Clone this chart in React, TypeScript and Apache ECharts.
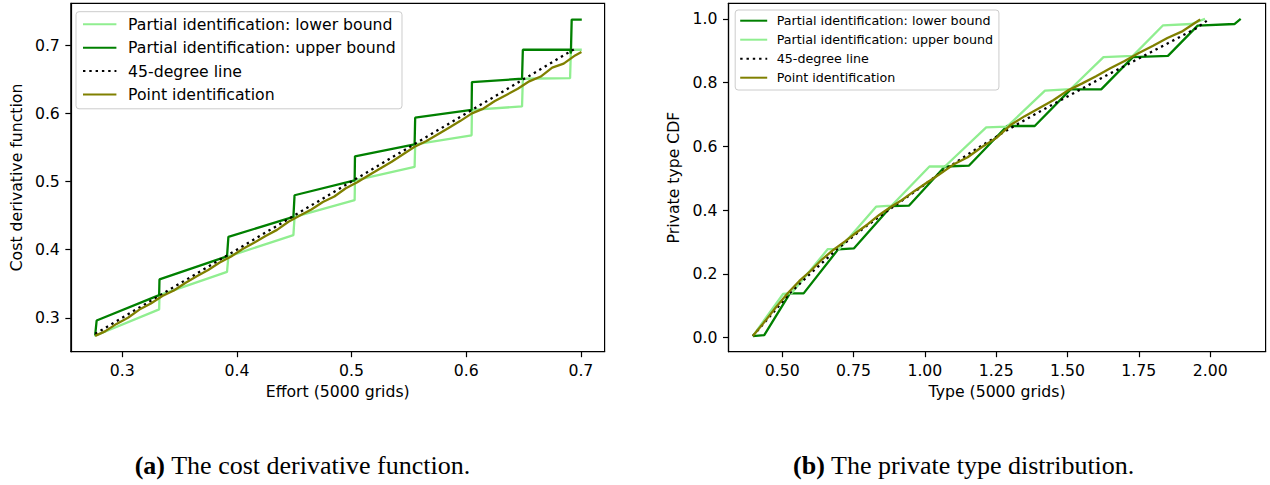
import React, { useEffect, useRef } from "react";
import * as echarts from "echarts";

// ---------- data: (a) cost derivative function ----------
const effortTicks = [0.3, 0.4, 0.5, 0.6, 0.7];
const costTicks = [0.3, 0.4, 0.5, 0.6, 0.7];

const costLower: [number, number][] = [
  [0.2758, 0.2732], [0.3322, 0.3123], [0.3325, 0.3333], [0.3914, 0.3674], [0.3926, 0.39],
  [0.4493, 0.4212], [0.4503, 0.448], [0.5027, 0.4725], [0.503, 0.5018], [0.555, 0.5213],
  [0.5555, 0.5545], [0.6047, 0.5677], [0.605, 0.605], [0.6487, 0.6102], [0.6494, 0.6508],
  [0.6906, 0.6517], [0.6913, 0.6933], [0.7008, 0.6933],
];
const costUpper: [number, number][] = [
  [0.2764, 0.274], [0.2777, 0.296], [0.3322, 0.3333], [0.3325, 0.3563], [0.3914, 0.39],
  [0.3926, 0.4187], [0.4493, 0.448], [0.4503, 0.4798], [0.5027, 0.5018], [0.503, 0.537],
  [0.555, 0.5545], [0.5555, 0.5936], [0.6047, 0.605], [0.605, 0.6458], [0.6487, 0.6508],
  [0.6494, 0.6933], [0.6906, 0.6933], [0.6913, 0.688], [0.692, 0.7376], [0.7008, 0.7376],
];
const cost45: [number, number][] = [[0.2764, 0.2764], [0.6965, 0.6965]];
const costPointX = [
  0.2764, 0.285, 0.295, 0.305, 0.315, 0.325, 0.335, 0.345, 0.355, 0.365, 0.375, 0.385, 0.395,
  0.405, 0.415, 0.425, 0.435, 0.445, 0.455, 0.465, 0.475, 0.485, 0.495, 0.505, 0.515, 0.525,
  0.535, 0.545, 0.555, 0.565, 0.575, 0.585, 0.595, 0.605, 0.615, 0.625, 0.635, 0.645, 0.655,
  0.665, 0.675, 0.685, 0.695, 0.7005,
];
const costPointY = [
  0.2734, 0.28, 0.291, 0.3, 0.312, 0.321, 0.332, 0.34, 0.351, 0.361, 0.37, 0.381, 0.39,
  0.401, 0.41, 0.42, 0.429, 0.441, 0.45, 0.459, 0.47, 0.478, 0.49, 0.499, 0.509, 0.519,
  0.529, 0.54, 0.551, 0.559, 0.569, 0.579, 0.589, 0.6, 0.607, 0.618, 0.627, 0.636, 0.647,
  0.654, 0.667, 0.673, 0.685, 0.69,
];

// ---------- data: (b) private type distribution ----------
const typeTicks = [0.5, 0.75, 1.0, 1.25, 1.5, 1.75, 2.0];
const cdfTicks = [0.0, 0.2, 0.4, 0.6, 0.8, 1.0];

const cdfLower: [number, number][] = [
  [0.397, 0.005], [0.437, 0.008], [0.527, 0.139], [0.575, 0.139], [0.696, 0.277], [0.751, 0.28],
  [0.883, 0.413], [0.944, 0.414], [1.07, 0.537], [1.155, 0.54], [1.288, 0.664], [1.385, 0.664],
  [1.511, 0.779], [1.618, 0.779], [1.729, 0.88], [1.852, 0.884], [1.956, 0.979], [2.085, 0.984],
  [2.107, 1.0],
];
const cdfUpper: [number, number][] = [
  [0.397, 0.005], [0.503, 0.137], [0.533, 0.14], [0.66, 0.278], [0.7, 0.278], [0.829, 0.411],
  [0.883, 0.414], [1.016, 0.537], [1.07, 0.537], [1.215, 0.66], [1.288, 0.662], [1.421, 0.775],
  [1.511, 0.78], [1.626, 0.88], [1.729, 0.884], [1.835, 0.98], [1.934, 0.984], [1.982, 1.0],
];
const cdf45: [number, number][] = [
  [0.397, 0.005], [0.45, 0.06], [0.526, 0.139], [0.6, 0.202], [0.69, 0.276], [0.79, 0.347],
  [0.894, 0.414], [0.98, 0.468], [1.07, 0.527], [1.18, 0.592], [1.288, 0.651], [1.4, 0.708],
  [1.511, 0.762], [1.62, 0.815], [1.729, 0.866], [1.84, 0.918], [1.95, 0.97], [1.988, 0.994],
];
const cdfPointX = [
  0.397, 0.44, 0.48, 0.52, 0.56, 0.6, 0.64, 0.68, 0.72, 0.76, 0.8, 0.84, 0.88, 0.92, 0.96, 1.0,
  1.05, 1.1, 1.15, 1.2, 1.25, 1.3, 1.35, 1.4, 1.45, 1.5, 1.55, 1.6, 1.65, 1.7, 1.75, 1.8, 1.85,
  1.9, 1.965,
];
const cdfPointY = [
  0.005, 0.052, 0.098, 0.14, 0.178, 0.21, 0.246, 0.276, 0.302, 0.33, 0.356, 0.385, 0.41, 0.432,
  0.458, 0.482, 0.512, 0.543, 0.566, 0.598, 0.626, 0.667, 0.695, 0.72, 0.745, 0.775, 0.797,
  0.82, 0.845, 0.868, 0.893, 0.916, 0.94, 0.96, 0.998,
];

const N_LOWER = "Partial identification: lower bound";
const N_UPPER = "Partial identification: upper bound";
const N_45 = "45-degree line";
const N_POINT = "Point identification";

const SANS = "'DejaVu Sans', sans-serif";
const SERIF = "'Liberation Serif', 'DejaVu Serif', serif";
const LIGHT = "#90ee90";
const DARK = "#008000";
const OLIVE = "#808000";
const LW = 2.3;
const AX = 15.7;

const zip = (xs: number[], ys: number[]) => xs.map((x, i) => [x, ys[i]]);

function axis(
  min: number, max: number, ticks: number[], digits: number, name: string,
  nameGap: number,
) {
  return {
    type: "value",
    min, max,
    name,
    nameLocation: "middle",
    nameGap,
    nameTextStyle: { fontFamily: SANS, fontSize: AX, color: "#000" },
    axisLine: { show: true, onZero: false, lineStyle: { color: "#000", width: 1.2 } },
    axisTick: { show: true, length: 5.5, customValues: ticks, lineStyle: { color: "#000", width: 1.2 } },
    axisLabel: {
      margin: 11, fontFamily: SANS, fontSize: AX, color: "#000", customValues: ticks,
      formatter: (v: number) => v.toFixed(digits),
    },
    splitLine: { show: false },
  };
}

function line(name: string, data: any[], color: string, dotted = false) {
  return {
    type: "line", name, data, symbol: "none", showSymbol: false,
    lineStyle: dotted
      ? { color, width: LW, type: [2.4, 3.9], cap: "butt" }
      : { color, width: LW },
    itemStyle: { color },
  };
}

function caption(x: number, tag: string, text: string) {
  return {
    type: "text", x, y: 465,
    style: {
      text: `{b|${tag}} ${text}`,
      rich: { b: { fontFamily: SERIF, fontSize: 26, fontWeight: "bold", fill: "#000" } },
      fontFamily: SERIF, fontSize: 26, fill: "#000",
      align: "center", verticalAlign: "middle",
    },
  };
}

const optionA = {
  animation: false,
  grid: { left: 68, top: 3.3, width: 536.6, height: 348.4, show: true, borderColor: "#000", borderWidth: 1.2 },
  xAxis: axis(0.2552, 0.7207, effortTicks, 1, "Effort (5000 grids)", 32),
  yAxis: axis(0.2502, 0.7615, costTicks, 1, "Cost derivative function", 42.3),
  legend: {
    orient: "vertical", left: 76, top: 11.7,
    padding: [4.6, 6.4, 6.3, 6],
    itemWidth: 33.4, itemHeight: 16, itemGap: 7.4,
    backgroundColor: "rgba(255,255,255,0.8)", borderColor: "#cccccc", borderWidth: 1, borderRadius: 3,
    itemStyle: { opacity: 0 },
    textStyle: { fontFamily: SANS, fontSize: AX, color: "#000", lineHeight: 16, padding: [0, 0, 0, 6.7] },
    data: [N_LOWER, N_UPPER, N_45, N_POINT],
  },
  series: [
    line(N_LOWER, costLower, LIGHT),
    line(N_UPPER, costUpper, DARK),
    line(N_45, cost45, "#000", true),
    line(N_POINT, zip(costPointX, costPointY), OLIVE),
  ],
  graphic: [caption(302.5, "(a)", "The cost derivative function.")],
};

const optionB = {
  animation: false,
  grid: { left: 93.5, top: 3.3, width: 537.1, height: 348.4, show: true, borderColor: "#000", borderWidth: 1.2 },
  xAxis: axis(0.3117, 2.1943, typeTicks, 2, "Type (5000 grids)", 32),
  yAxis: axis(-0.044, 1.049, cdfTicks, 1, "Private type CDF", 42.3),
  legend: {
    orient: "vertical", left: 100.2, top: 10,
    padding: [4.2, 5.9, 5.8, 4],
    itemWidth: 27, itemHeight: 13, itemGap: 6,
    backgroundColor: "rgba(255,255,255,0.8)", borderColor: "#cccccc", borderWidth: 1, borderRadius: 3,
    itemStyle: { opacity: 0 },
    textStyle: { fontFamily: SANS, fontSize: 12.7, color: "#000", lineHeight: 13, padding: [0, 0, 0, 4.5] },
    data: [N_LOWER, N_UPPER, N_45, N_POINT],
  },
  series: [
    line(N_LOWER, cdfLower, DARK),
    line(N_UPPER, cdfUpper, LIGHT),
    line(N_45, cdf45, "#000", true),
    line(N_POINT, zip(cdfPointX, cdfPointY), OLIVE),
  ],
  graphic: [caption(328.8, "(b)", "The private type distribution.")],
};

function Chart({ option, left }: { option: any; left: number }) {
  const ref = useRef<HTMLDivElement>(null);
  useEffect(() => {
    if (!ref.current) return;
    const chart = echarts.init(ref.current, undefined, { renderer: "svg" });
    chart.setOption(option);
    return () => chart.dispose();
  }, [option]);
  return (
    <div
      ref={ref}
      style={{ position: "absolute", left, top: 0, width: 635, height: 485 }}
    />
  );
}

export default function App() {
  return (
    <div style={{ position: "fixed", left: 0, top: 0, width: 1270, height: 485, background: "#fff" }}>
      <Chart option={optionA} left={0} />
      <Chart option={optionB} left={635} />
    </div>
  );
}
